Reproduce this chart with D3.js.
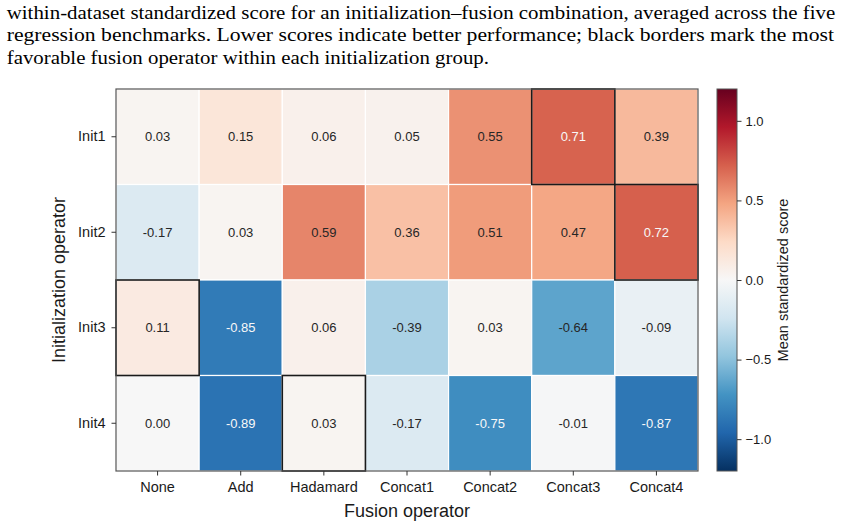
<!DOCTYPE html>
<html>
<head>
<meta charset="utf-8">
<script src="https://cdn.jsdelivr.net/npm/d3@7"></script>
<style>
  html, body { margin: 0; padding: 0; background: #fff; }
  svg { display: block; }
</style>
</head>
<body>
<svg id="chart" width="843" height="529"></svg>
<script>
// data
const fusionOps = ["None", "Add", "Hadamard", "Concat1", "Concat2", "Concat3", "Concat4"];
const initOps = ["Init1", "Init2", "Init3", "Init4"];
const init1Scores = [0.03, 0.15, 0.06, 0.05, 0.55, 0.71, 0.39];
const init2Scores = [-0.17, 0.03, 0.59, 0.36, 0.51, 0.47, 0.72];
const init3Scores = [0.11, -0.85, 0.06, -0.39, 0.03, -0.64, -0.09];
const init4Scores = [0.00, -0.89, 0.03, -0.17, -0.75, -0.01, -0.87];
const highlighted = ["Concat3", "Concat4", "None", "Hadamard"]; // one per init row
const colorbarTicks = [-1.0, -0.5, 0.0, 0.5, 1.0];
const captionLines = [
  "within-dataset standardized score for an initialization\u2013fusion combination, averaged across the five",
  "regression benchmarks. Lower scores indicate better performance; black borders mark the most",
  "favorable fusion operator within each initialization group."
];

// matplotlib RdBu_r stops (colorbrewer, linear segments)
const rdbuR = ["#053061", "#2166ac", "#4393c3", "#92c5de", "#d1e5f0", "#f7f7f7",
               "#fddbc7", "#f4a582", "#d6604d", "#b2182b", "#67001f"];
const vmin = -1.2, vmax = 1.2;

const rows = [init1Scores, init2Scores, init3Scores, init4Scores];
const cells = [];
rows.forEach((vals, i) => {
  vals.forEach((v, j) => {
    cells.push({ init: initOps[i], fusion: fusionOps[j], value: v });
  });
});

const svg = d3.select("#chart");
const sans = "'Liberation Sans', Arial, sans-serif";

// caption
const capX = [[6.7, 835.3], [6.7, 834], [6.7, 489]];
const capY = [18.5, 41, 63.5];
svg.append("g")
  .selectAll("text")
  .data(captionLines)
  .enter()
  .append("text")
  .attr("x", (d, i) => capX[i][0])
  .attr("y", (d, i) => capY[i])
  .attr("textLength", (d, i) => capX[i][1] - capX[i][0])
  .attr("lengthAdjust", "spacingAndGlyphs")
  .style("font", "18.5px 'Liberation Serif', 'Times New Roman', serif")
  .style("fill", "#000")
  .text(d => d);

const margin = { left: 116, top: 89, right: 698, bottom: 471 };

const x = d3.scaleBand().domain(fusionOps).range([margin.left, margin.right]).padding(0);
const y = d3.scaleBand().domain(initOps).range([margin.top, margin.bottom]).padding(0);
const color = d3.scaleLinear()
  .domain(d3.range(rdbuR.length).map(i => vmin + (vmax - vmin) * i / (rdbuR.length - 1)))
  .range(rdbuR)
  .interpolate(d3.interpolateRgb)
  .clamp(true);

const g = svg.append("g");

// cells with thin white separators
g.selectAll(".cell")
  .data(cells)
  .enter()
  .append("rect")
  .attr("class", "cell")
  .attr("x", d => x(d.fusion))
  .attr("y", d => y(d.init))
  .attr("width", x.bandwidth())
  .attr("height", y.bandwidth())
  .style("fill", d => color(d.value))
  .style("stroke", "#fff")
  .style("stroke-width", 1.2);

// annotations
g.selectAll(".annot")
  .data(cells)
  .enter()
  .append("text")
  .attr("class", "annot")
  .attr("x", d => x(d.fusion) + x.bandwidth() / 2)
  .attr("y", d => y(d.init) + y.bandwidth() / 2)
  .attr("dy", "0.35em")
  .attr("text-anchor", "middle")
  .style("font", "13px " + sans)
  .style("fill", d => (Math.abs(d.value) > 0.65 ? "#f8f8f8" : "#262626"))
  .text(d => d3.format(".2f")(d.value).replace("\u2212", "-"));

// black borders on the marked operator of each row
g.selectAll(".best")
  .data(initOps.map((name, i) => ({ init: name, fusion: highlighted[i] })))
  .enter()
  .append("rect")
  .attr("class", "best")
  .attr("x", d => x(d.fusion))
  .attr("y", d => y(d.init))
  .attr("width", x.bandwidth())
  .attr("height", y.bandwidth())
  .style("fill", "none")
  .style("stroke", "#1a1a1a")
  .style("stroke-width", 1.6);

// frame
g.append("rect")
  .attr("x", margin.left)
  .attr("y", margin.top)
  .attr("width", margin.right - margin.left)
  .attr("height", margin.bottom - margin.top)
  .style("fill", "none")
  .style("stroke", "#555")
  .style("stroke-width", 1.2);

// axes
const xAxis = g.append("g")
  .attr("transform", `translate(0, ${margin.bottom})`)
  .call(d3.axisBottom(x).tickSize(4.5).tickPadding(6));
const yAxis = g.append("g")
  .attr("transform", `translate(${margin.left}, 0)`)
  .call(d3.axisLeft(y).tickSize(4.5).tickPadding(6));
[xAxis, yAxis].forEach(a => {
  a.select(".domain").remove();
  a.selectAll("line").style("stroke", "#333").style("stroke-width", 1);
  a.selectAll("text").style("font", "14.5px " + sans).style("fill", "#1a1a1a");
});

g.append("text")
  .attr("x", (margin.left + margin.right) / 2)
  .attr("y", 517)
  .attr("text-anchor", "middle")
  .style("font", "18px " + sans)
  .style("fill", "#1a1a1a")
  .text("Fusion operator");

g.append("text")
  .attr("transform", `translate(64.5, ${(margin.top + margin.bottom) / 2}) rotate(-90)`)
  .attr("text-anchor", "middle")
  .style("font", "18px " + sans)
  .style("fill", "#1a1a1a")
  .text("Initialization operator");

// colorbar
const cb = { x: 717, w: 20 };
const cbScale = d3.scaleLinear().domain([vmin, vmax]).range([margin.bottom, margin.top]);

const grad = svg.append("defs")
  .append("linearGradient")
  .attr("id", "cbGrad")
  .attr("x1", 0).attr("y1", 1)
  .attr("x2", 0).attr("y2", 0);
grad.selectAll("stop")
  .data(rdbuR)
  .enter()
  .append("stop")
  .attr("offset", (d, i) => i / (rdbuR.length - 1))
  .attr("stop-color", d => d);

const cbg = svg.append("g");
cbg.append("rect")
  .attr("x", cb.x)
  .attr("y", margin.top)
  .attr("width", cb.w)
  .attr("height", margin.bottom - margin.top)
  .style("fill", "url(#cbGrad)")
  .style("stroke", "#555")
  .style("stroke-width", 1);

const cbAxis = cbg.append("g")
  .attr("transform", `translate(${cb.x + cb.w}, 0)`)
  .call(d3.axisRight(cbScale).tickValues(colorbarTicks).tickFormat(d3.format(".1f")).tickSize(4.5).tickPadding(4));
cbAxis.select(".domain").remove();
cbAxis.selectAll("line").style("stroke", "#333");
cbAxis.selectAll("text").style("font", "13px " + sans).style("fill", "#1a1a1a");

cbg.append("text")
  .attr("transform", `translate(788, ${(margin.top + margin.bottom) / 2}) rotate(-90)`)
  .attr("text-anchor", "middle")
  .style("font", "14.5px " + sans)
  .style("fill", "#1a1a1a")
  .text("Mean standardized score");
</script>
</body>
</html>
